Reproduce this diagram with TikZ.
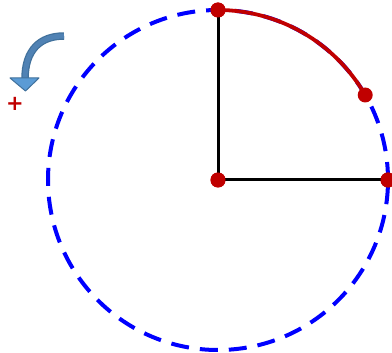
\documentclass[tikz,border=0pt]{standalone}
\usepackage{fontspec}
\newfontfamily\plusfont{DejaVu Sans}
\usetikzlibrary{calc}
\definecolor{darkred}{RGB}{192,0,0}
\definecolor{arrowdark}{RGB}{65,113,156}
\definecolor{arrowmid}{RGB}{80,130,180}
\definecolor{arrowlight}{RGB}{91,155,213}
\begin{document}
\begin{tikzpicture}[x=1pt,y=-1pt,
  dot/.style={circle,fill=darkred,inner sep=0pt,minimum size=15pt},
  radius line/.style={line width=3pt,black},
  circ/.style={line width=4pt,blue,dash pattern=on 18pt off 11pt},
  arcred/.style={line width=3.8pt,darkred},
]
\useasboundingbox (0,0) rectangle (392,353);
\coordinate (O) at (218,180);
\draw[circ] (O) circle[radius=170pt];
\draw[arcred] (218,10) arc[start angle=90,end angle=30,radius=170pt];
\node[dot] (c) at (O) {};
\node[dot] (t) at (218,10) {};
\node[dot] (m) at ($(O)+(30:170pt)$) {};
\node[dot] (r) at (388,180) {};
\draw[radius line] (c.center) -- (t.center);
\draw[radius line] (c.center) -- (r.center);
\foreach \n in {c,t,r} \node[dot] at (\n) {};
% rotation arrow
\draw[line width=7.5pt,arrowdark] (64,36) .. controls (40,36) and (25,50) .. (25,79);
\draw[line width=5pt,arrowmid] (64,36) .. controls (40,36) and (25,50) .. (25,79);
\draw[fill=arrowlight,draw=arrowdark,line width=1pt,line join=round] (10,78) -- (39,78) -- (25.5,91) -- cycle;
% plus sign
\node[text=darkred,font=\plusfont\bfseries\fontsize{21}{21}\selectfont,inner sep=0pt] (plus) at (15,104) {+};
\end{tikzpicture}
\end{document}
